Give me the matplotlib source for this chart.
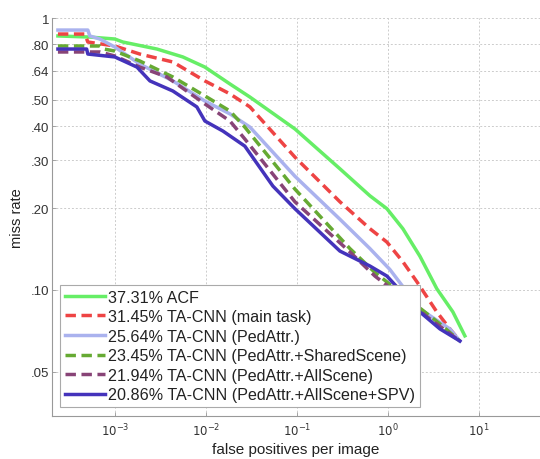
import numpy as np
import matplotlib.pyplot as plt

plt.rcParams['font.family'] = ['Liberation Sans', 'DejaVu Sans']

# series: false positives per image vs miss rate
acf_fppi = [2.37e-4, 5.31e-4, 1.0e-3, 1.225e-3, 2.9e-3, 5.59e-3, 9.76e-3, 0.0184, 0.0305,
            0.0951, 0.297, 0.634, 0.975, 1.46, 2.25, 3.45, 5.18, 7.01]
acf_mr = [0.859, 0.851, 0.837, 0.816, 0.769, 0.719, 0.660, 0.572, 0.512,
          0.391, 0.279, 0.222, 0.199, 0.168, 0.133, 0.101, 0.083, 0.0678]

main_fppi = [2.37e-4, 4.68e-4, 5.05e-4, 1.0e-3, 1.88e-3, 4.34e-3, 9.76e-3, 0.0184, 0.0305,
             0.0951, 0.297, 0.634, 0.975, 1.46, 2.09, 3.45, 4.80, 6.18]
main_mr = [0.873, 0.873, 0.816, 0.789, 0.737, 0.689, 0.587, 0.526, 0.471,
           0.308, 0.211, 0.168, 0.150, 0.127, 0.107, 0.083, 0.0719, 0.0649]

ped_fppi = [2.37e-4, 5.05e-4, 5.31e-4, 6.84e-4, 1.0e-3, 1.88e-3, 4.34e-3, 9.76e-3, 0.0184,
            0.0305, 0.0951, 0.297, 0.634, 1.05, 2.25, 4.80, 6.18]
ped_mr = [0.903, 0.903, 0.859, 0.837, 0.782, 0.677, 0.587, 0.495, 0.444,
          0.397, 0.262, 0.182, 0.142, 0.119, 0.0851, 0.0719, 0.0649]

shared_fppi = [2.37e-4, 6.84e-4, 7.6e-4, 1.0e-3, 1.88e-3, 4.34e-3, 9.76e-3, 0.0184, 0.0268,
               0.0951, 0.382, 0.72, 3.73, 6.18]
shared_mr = [0.789, 0.789, 0.769, 0.756, 0.695, 0.607, 0.517, 0.455, 0.397,
             0.235, 0.142, 0.116, 0.075, 0.0649]

allsc_fppi = [2.37e-4, 6.84e-4, 1.0e-3, 1.88e-3, 3.73e-3, 9.76e-3, 0.0184, 0.0268,
              0.0951, 0.382, 0.72, 2.9, 6.18]
allsc_mr = [0.750, 0.750, 0.725, 0.660, 0.607, 0.483, 0.418, 0.359,
            0.211, 0.138, 0.1125, 0.0782, 0.0649]

spv_fppi = [2.37e-4, 4.9e-4, 5.05e-4, 1.0e-3, 1.75e-3, 2.43e-3, 4.34e-3, 7.96e-3, 9.76e-3,
            0.0154, 0.0268, 0.0545, 0.0951, 0.297, 0.634, 0.975, 2.25, 3.73, 6.18]
spv_mr = [0.769, 0.769, 0.737, 0.719, 0.660, 0.587, 0.539, 0.471, 0.418,
          0.384, 0.338, 0.241, 0.199, 0.139, 0.1225, 0.1125, 0.083, 0.0719, 0.0649]

labels = ['37.31% ACF',
          '31.45% TA-CNN (main task)',
          '25.64% TA-CNN (PedAttr.)',
          '23.45% TA-CNN (PedAttr.+SharedScene)',
          '21.94% TA-CNN (PedAttr.+AllScene)',
          '20.86% TA-CNN (PedAttr.+AllScene+SPV)']

yticks = [0.05, 0.10, 0.20, 0.30, 0.40, 0.50, 0.64, 0.80, 1.0]
ytick_labels = ['.05', '.10', '.20', '.30', '.40', '.50', '.64', '.80', '1']
xticks = [1e-3, 1e-2, 1e-1, 1e0, 1e1]

fig = plt.figure(figsize=(5.4, 4.6), dpi=100)
ax = fig.add_axes([52 / 540, 1 - 417 / 460, 1 - 52 / 540, (417 - 19) / 460])

dash = (0, (3.0, 1.6))
lw = 2.5
ax.plot(acf_fppi, acf_mr, color='#66ee66', lw=lw, label=labels[0])
ax.plot(main_fppi, main_mr, color='#ee4444', lw=lw, ls=dash, label=labels[1])
ax.plot(ped_fppi, ped_mr, color='#aab2ee', lw=lw, label=labels[2])
ax.plot(shared_fppi, shared_mr, color='#66aa33', lw=lw, ls=dash, label=labels[3])
ax.plot(allsc_fppi, allsc_mr, color='#884477', lw=lw, ls=dash, label=labels[4])
ax.plot(spv_fppi, spv_mr, color='#4433bb', lw=lw, label=labels[5])

ax.set_xscale('log')
ax.set_yscale('log')
ax.set_xlim(2.04e-4, 46.9)
ax.set_ylim(0.0344, 1.0)

ax.set_yticks(yticks)
ax.set_yticklabels(ytick_labels)
ax.yaxis.set_minor_locator(plt.NullLocator())
ax.set_xticks(xticks)
ax.set_xticklabels(['$10^{%d}$' % p for p in range(-3, 2)])
ax.xaxis.set_minor_locator(plt.NullLocator())
ax.tick_params(direction='in', length=3, width=0.6, colors='#999999',
               labelcolor='#333333', labelsize=9.5, pad=2)
ax.tick_params(axis='x', labelsize=8.5, pad=4)

ax.grid(True, color='#cccccc', ls=(0, (2, 2)), lw=0.7)
for s in ['top', 'right']:
    ax.spines[s].set_visible(False)
for s in ['left', 'bottom']:
    ax.spines[s].set_color('#999999')
    ax.spines[s].set_linewidth(0.8)

ax.set_ylabel('miss rate', fontsize=10.5, color='#222222', labelpad=5)
ax.set_xlabel('false positives per image', fontsize=11, color='#222222', labelpad=3)

leg = ax.legend(loc='lower left', bbox_to_anchor=(60 / 540, 1 - 408 / 460),
                bbox_transform=fig.transFigure, borderaxespad=0, fontsize=11.6,
                handlelength=2.5, handletextpad=0.2, labelspacing=0.28,
                borderpad=0.3, fancybox=False, framealpha=1)
leg.get_frame().set_edgecolor('#aaaaaa')
leg.get_frame().set_linewidth(0.8)
for t in leg.get_texts():
    t.set_color('#222222')

fig.savefig('out.png', dpi=100)
